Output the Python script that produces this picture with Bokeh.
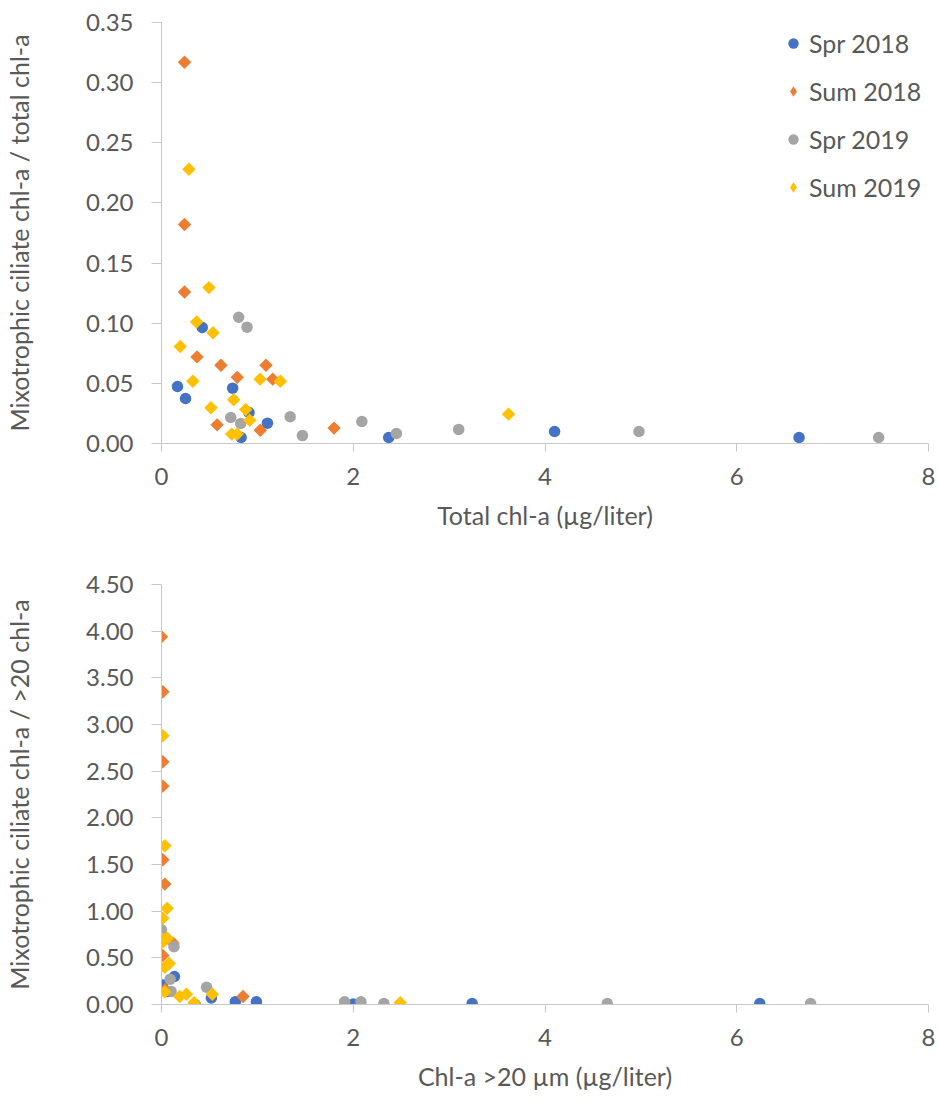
import numpy as np
from bokeh.plotting import figure
from bokeh.layouts import column
from bokeh.models import FixedTicker, NumeralTickFormatter, Range1d, Legend, LegendItem
from bokeh.embed import file_html
from bokeh.resources import INLINE

# ---------------- data: top chart (Total chl-a vs ratio) ----------------
spr2018_tot_x = [0.167, 0.251, 0.425, 0.742, 0.913, 1.105, 0.83, 2.37, 4.10, 6.65]
spr2018_tot_y = [0.0474, 0.0374, 0.0964, 0.046, 0.0258, 0.0169, 0.005, 0.005, 0.010, 0.005]

sum2018_tot_x = [0.24, 0.24, 0.24, 0.37, 0.62, 1.09, 0.79, 1.16, 0.58, 1.03, 1.80]
sum2018_tot_y = [0.317, 0.182, 0.126, 0.072, 0.065, 0.065, 0.055, 0.0535, 0.0155, 0.011, 0.0128]

spr2019_tot_x = [0.805, 0.892, 0.722, 0.826, 1.342, 1.47, 2.09, 2.45, 3.10, 4.98, 7.48]
spr2019_tot_y = [0.105, 0.0967, 0.0216, 0.0166, 0.0222, 0.0066, 0.0183, 0.0083, 0.0117, 0.010, 0.005]

sum2019_tot_x = [0.286, 0.495, 0.366, 0.537, 0.195, 0.327, 1.028, 1.24, 0.753, 0.516, 0.878, 0.92, 0.732, 0.79, 3.62]
sum2019_tot_y = [0.228, 0.1296, 0.101, 0.092, 0.0806, 0.0518, 0.0535, 0.0518, 0.0363, 0.0297, 0.0283, 0.0194, 0.0078, 0.0078, 0.0244]

# ---------------- data: bottom chart (Chl-a >20 um vs ratio) ----------------
spr2018_big_x = [0.01, 0.06, 0.135, 0.35, 0.52, 0.77, 0.99, 2.0, 3.24, 6.24]
spr2018_big_y = [0.21, 0.14, 0.30, 0.0, 0.07, 0.03, 0.03, 0.005, 0.01, 0.01]

sum2018_big_x = [0.0, 0.014, 0.014, 0.014, 0.014, 0.035, 0.014, 0.12, 0.04, 0.85]
sum2018_big_y = [3.94, 3.35, 2.60, 2.34, 1.55, 1.29, 0.525, 0.66, 0.16, 0.086]

spr2019_big_x = [0.0, 0.13, 0.09, 0.10, 0.47, 1.91, 2.08, 2.32, 4.65, 6.77]
spr2019_big_y = [0.80, 0.62, 0.27, 0.14, 0.185, 0.03, 0.03, 0.01, 0.01, 0.01]

sum2019_big_x = [0.014, 0.035, 0.059, 0.014, 0.014, 0.06, 0.014, 0.08, 0.035, 0.035, 0.19, 0.26, 0.34, 0.53, 2.49]
sum2019_big_y = [2.88, 1.70, 1.03, 0.925, 0.70, 0.71, 0.67, 0.44, 0.40, 0.135, 0.086, 0.11, 0.018, 0.11, 0.02]

series_names = ["Spr 2018", "Sum 2018", "Spr 2019", "Sum 2019"]
x_ticks = [0, 2, 4, 6, 8]
top_y_ticks = [0.0, 0.05, 0.10, 0.15, 0.20, 0.25, 0.30, 0.35]
bottom_y_ticks = [0.0, 0.5, 1.0, 1.5, 2.0, 2.5, 3.0, 3.5, 4.0, 4.5]

COLORS = ["#4472C4", "#ED7D31", "#A5A5A5", "#FFC000"]
FONT = "Lato"
TXT = "#595959"
AX = "#c8c8c8"


def make_fig(height, min_top, min_bottom, y_max, y_ticks, xlabel, ylabel):
    p = figure(width=936, height=height, output_backend="svg", toolbar_location=None,
               x_range=Range1d(0, 8), y_range=Range1d(0, y_max),
               min_border_left=161, min_border_right=8,
               min_border_top=min_top, min_border_bottom=min_bottom)
    p.outline_line_color = None
    p.xgrid.visible = False
    p.ygrid.visible = False
    p.xaxis.ticker = FixedTicker(ticks=x_ticks)
    p.yaxis.ticker = FixedTicker(ticks=y_ticks)
    p.yaxis.formatter = NumeralTickFormatter(format="0.00")
    for ax in (p.xaxis[0], p.yaxis[0]):
        ax.axis_line_color = AX
        ax.major_tick_line_color = AX
        ax.minor_tick_line_color = None
        ax.major_tick_in = 0
        ax.major_label_text_font = FONT
        ax.major_label_text_font_size = "24px"
        ax.major_label_text_color = TXT
        ax.axis_label_text_font = FONT
        ax.axis_label_text_font_size = "25px"
        ax.axis_label_text_color = TXT
        ax.axis_label_text_font_style = "normal"
    p.xaxis.major_tick_out = 8
    p.yaxis.major_tick_out = 10
    p.xaxis.major_label_standoff = 16
    p.yaxis.major_label_standoff = 18
    p.xaxis.axis_label = xlabel
    p.yaxis.axis_label = ylabel
    p.xaxis.axis_label_standoff = 12
    p.yaxis.axis_label_standoff = 49
    return p


def add_series(p, xs_list, ys_list):
    rs = []
    for i, (xs, ys) in enumerate(zip(xs_list, ys_list)):
        if i in (0, 2):
            r = p.scatter(xs, ys, marker="circle", size=11.5, fill_color=COLORS[i], line_color=None)
        else:
            r = p.scatter(xs, ys, marker="square", size=9.5, angle=np.pi / 4,
                          fill_color=COLORS[i], line_color=None)
        rs.append(r)
    return rs


p1 = make_fig(570, 22, 127, 0.35, top_y_ticks, "Total chl-a (µg/liter)",
              "Mixotrophic ciliate chl-a / total chl-a")
xs_top = [spr2018_tot_x, sum2018_tot_x, spr2019_tot_x, sum2019_tot_x]
ys_top = [spr2018_tot_y, sum2018_tot_y, spr2019_tot_y, sum2019_tot_y]
rs = add_series(p1, xs_top, ys_top)

# legend swatches: circles for spring, diamonds for summer
legend_rs = []
for i, r in enumerate(rs):
    if i in (1, 3):
        d = p1.scatter(xs_top[i], ys_top[i], marker="diamond", size=12,
                       fill_color=COLORS[i], line_color=None, visible=False)
        legend_rs.append(d)
    else:
        legend_rs.append(r)

legend = Legend(items=[LegendItem(label=n, renderers=[r]) for n, r in zip(series_names, legend_rs)],
                location=(619, 241))
legend.border_line_color = None
legend.background_fill_alpha = 0
legend.inactive_fill_alpha = 0
legend.label_text_font = FONT
legend.label_text_font_size = "25px"
legend.label_text_color = TXT
legend.glyph_width = 26
legend.glyph_height = 28
legend.label_height = 28
legend.label_standoff = 3
legend.spacing = 18
legend.margin = 0
legend.padding = 0
p1.add_layout(legend)

p2 = make_fig(530, 14, 96, 4.5, bottom_y_ticks, "Chl-a >20 µm (µg/liter)",
              "Mixotrophic ciliate chl-a / >20 chl-a")
add_series(p2,
           [spr2018_big_x, sum2018_big_x, spr2019_big_x, sum2019_big_x],
           [spr2018_big_y, sum2018_big_y, spr2019_big_y, sum2019_big_y])

layout = column(p1, p2, spacing=0)
open("out.html", "w").write(file_html(layout, INLINE))
